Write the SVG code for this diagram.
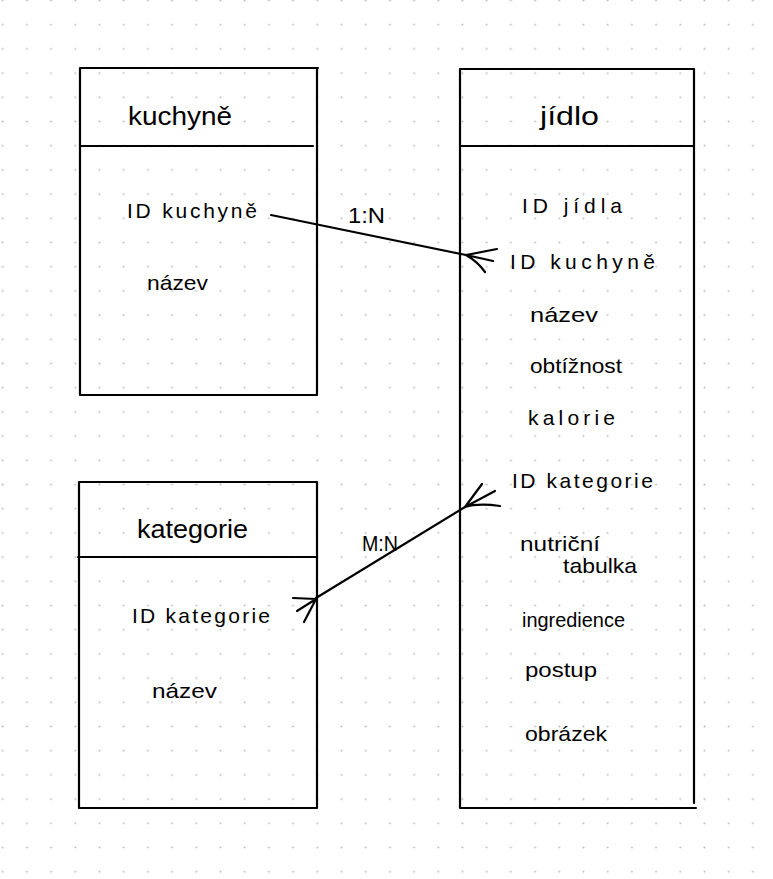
<svg xmlns="http://www.w3.org/2000/svg" width="773" height="879" viewBox="0 0 773 879">
<defs>
<pattern id="dots" x="-9.4" y="-11.6" width="24.2" height="24.2" patternUnits="userSpaceOnUse">
<circle cx="12.1" cy="12.1" r="1" fill="#bdbdbd"/>
</pattern>
<style>
.box{fill:none;stroke:#000;stroke-width:2.2;stroke-linecap:round;stroke-linejoin:round}
.con{fill:none;stroke:#000;stroke-width:2.2;stroke-linecap:round;stroke-linejoin:round}
text{font-family:"Liberation Sans","DejaVu Sans",sans-serif;fill:#000}
.t{font-size:25px}
.a{font-size:21px}
.l{font-size:22px}
</style>
</defs>
<rect x="0" y="0" width="773" height="879" fill="#fff"/>
<rect x="0" y="0" width="773" height="879" fill="url(#dots)"/>

<g id="kuchyne">
<path class="box" d="M80,68 L318,68 M80,68 L80,395 M317,68 L317,395 M80,395 L317,395 M80,146 L313,146"/>
<text class="t" x="128" y="125" textLength="104" lengthAdjust="spacingAndGlyphs">kuchyně</text>
<text class="a" x="127" y="218" textLength="130" lengthAdjust="spacing">ID kuchyně</text>
<text class="a" x="147" y="290" textLength="61" lengthAdjust="spacingAndGlyphs">název</text>
</g>

<g id="kategorie">
<path class="box" d="M79,482 L317,482 M79,482 L79,808 M317,482 L317,808 M79,808 L317,808 M78,557 L317,557"/>
<text class="t" x="137" y="538" textLength="111" lengthAdjust="spacingAndGlyphs">kategorie</text>
<text class="a" x="132" y="623" textLength="138" lengthAdjust="spacing">ID kategorie</text>
<text class="a" x="152" y="698" textLength="65" lengthAdjust="spacingAndGlyphs">název</text>
</g>

<g id="jidlo">
<path class="box" d="M460,69 L694,69 M460,69 L460,808 M694,69 L694,803 M460,808 L696,808 M460,146 L694,146"/>
<text class="t" x="540" y="125" textLength="59" lengthAdjust="spacingAndGlyphs">jídlo</text>
<text class="a" x="522" y="213" textLength="100" lengthAdjust="spacing">ID jídla</text>
<text class="a" x="510" y="269" textLength="145" lengthAdjust="spacing">ID kuchyně</text>
<text class="a" x="530" y="322" textLength="68" lengthAdjust="spacingAndGlyphs">název</text>
<text class="a" x="530" y="373" textLength="92" lengthAdjust="spacingAndGlyphs">obtížnost</text>
<text class="a" x="528" y="425" textLength="87" lengthAdjust="spacing">kalorie</text>
<text class="a" x="512" y="488" textLength="141" lengthAdjust="spacing">ID kategorie</text>
<text class="a"><tspan x="520" y="551" textLength="80" lengthAdjust="spacingAndGlyphs">nutriční</tspan><tspan x="563" y="573" textLength="74" lengthAdjust="spacingAndGlyphs">tabulka</tspan></text>
<text class="a" x="522" y="627" textLength="103" lengthAdjust="spacingAndGlyphs">ingredience</text>
<text class="a" x="525" y="677" textLength="72" lengthAdjust="spacingAndGlyphs">postup</text>
<text class="a" x="525" y="741" textLength="82" lengthAdjust="spacingAndGlyphs">obrázek</text>
</g>

<g id="connectors">
<path class="con" d="M271,215 L466,255"/>
<path class="con" d="M466,255 L497,249 M466,255 L493,261 M466,255 Q478,262 485,272"/>
<text class="l" x="348" y="223" textLength="37" lengthAdjust="spacingAndGlyphs">1:N</text>
<path class="con" d="M316,598 L465,507"/>
<path class="con" d="M465,507 L482,484 M465,507 L495,491 M465,507 Q478,503 500,506"/>
<path class="con" d="M316,599 L293,598 M316,599 L297,611 M316,599 L304,622"/>
<text class="l" x="362" y="551" textLength="36" lengthAdjust="spacingAndGlyphs">M:N</text>
</g>
</svg>
